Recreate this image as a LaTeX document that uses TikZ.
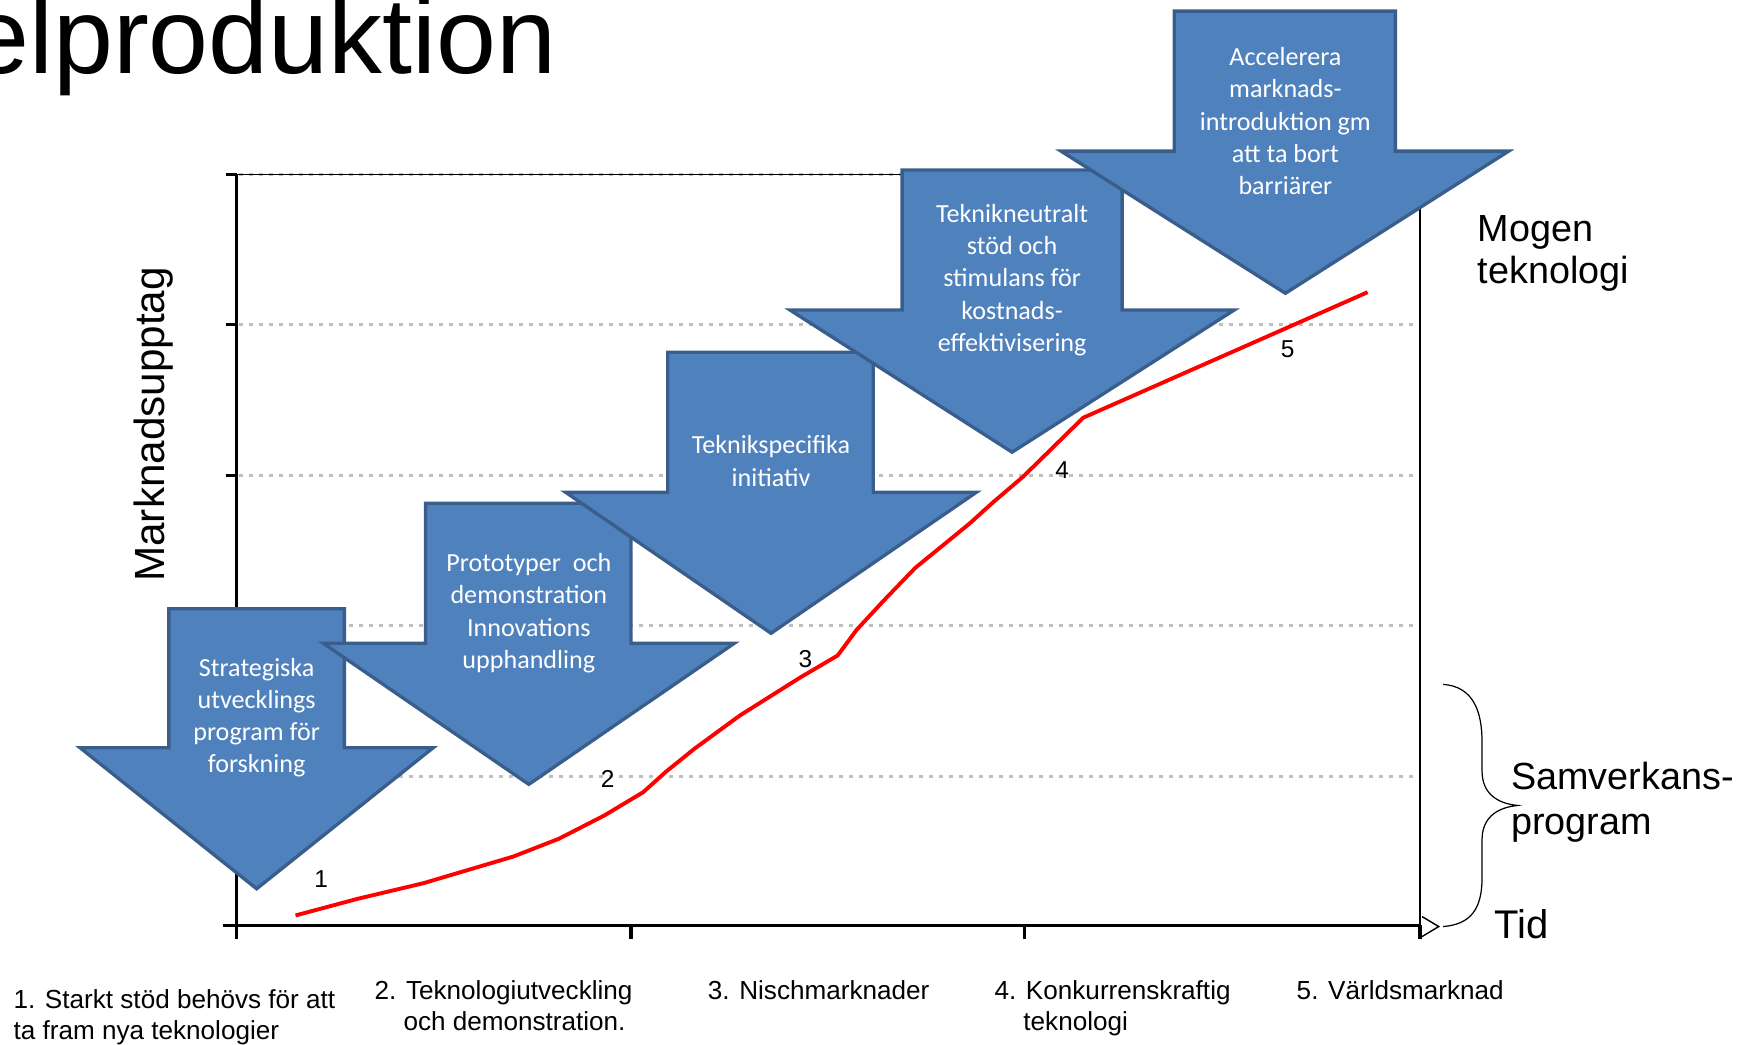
\documentclass[tikz,border=0pt]{standalone}
\usepackage{fontspec}
\setmainfont{Liberation Sans}
\newfontfamily\calibri{Carlito}
\definecolor{arrowfill}{HTML}{4F81BD}
\definecolor{arrowline}{HTML}{3A5E8C}
\definecolor{gridgray}{HTML}{BFBFBF}
\definecolor{curvered}{HTML}{FF0000}
\begin{document}
\begin{tikzpicture}[x=1pt,y=-1pt,
  blockarrow/.style={fill=arrowfill,draw=arrowline,line width=3pt,line join=miter},
  arrowtext/.style={text=white,font=\calibri\fontsize{23.5}{29}\selectfont,align=center,inner sep=0pt},
  gridline/.style={draw=gridgray,line width=2pt,dash pattern=on 4pt off 5pt},
  axisline/.style={draw=black,line width=3.2pt},
  borderline/.style={draw=black,line width=1.2pt},
  caption/.style={font=\fontsize{23.5}{28}\selectfont,anchor=base west,inner sep=0pt},
  sidelabel/.style={font=\fontsize{34}{40}\selectfont,anchor=base west,inner sep=0pt},
  stagenum/.style={font=\fontsize{22}{26}\selectfont,inner sep=0pt}]

\useasboundingbox (0,0) rectangle (1568,940);

% title, partly cut at the left edge
\begin{scope}
\clip (0,0) rectangle (1568,940);
\node[font=\fontsize{97}{110}\selectfont,anchor=base east,inner sep=0pt] (title) at (501,66) {elproduktion};
\end{scope}

% grid
\foreach \gy in {157,292,428,563,699}
  \draw[gridline] (215,\gy) -- (1277,\gy);

% plot area border
\draw[borderline] (213,157) -- (1278,157) -- (1278,833);

% axes with ticks
\draw[axisline] (213,157) -- (213,845);
\foreach \gy in {157,292,428,563,699}
  \draw[axisline] (203,\gy) -- (213,\gy);
\draw[axisline] (201,833) -- (1278,833);
\foreach \gx in {568,922,1278}
  \draw[axisline] (\gx,833) -- (\gx,845);
\coordinate (xend) at (1295,834);
\draw[black,line width=1.3pt] (1280,825) -- (xend) -- (1280,843);

% block arrows, left to right, each drawn over the previous one
\draw[blockarrow] (152,548) -- (310,548) -- (310,673) -- (390,673) -- (231,800) -- (72,673) -- (152,673) -- cycle;
\node[arrowtext] (a1) at (231,646) {Strategiska\\utvecklings\\program för\\forskning};

\draw[blockarrow] (383,453) -- (568,453) -- (568,579) -- (661,579) -- (476,706) -- (291,579) -- (383,579) -- cycle;
\node[arrowtext] (a2) at (476,552) {Prototyper\ \ och\\demonstration\\Innovations\\upphandling};

\draw[blockarrow] (601,317) -- (786,317) -- (786,443) -- (879,443) -- (694,570) -- (509,443) -- (601,443) -- cycle;
\node[arrowtext] (a3) at (694,415) {Teknikspecifika\\initiativ};

\draw[blockarrow] (812,153) -- (1010,153) -- (1010,279) -- (1111,279) -- (911,407) -- (711,279) -- (812,279) -- cycle;
\node[arrowtext] (a4) at (911,252) {Teknikneutralt\\stöd och\\stimulans för\\kostnads-\\effektivisering};

\draw[blockarrow] (1057,10) -- (1256,10) -- (1256,136) -- (1358,136) -- (1157,264) -- (955,136) -- (1057,136) -- cycle;
\node[arrowtext] (a5) at (1157,109) {Accelerera\\marknads-\\introduktion gm\\att ta bort\\barriärer};

% market uptake curve
\draw[curvered,line width=3.5pt,line join=round]
  (266,824) -- (322,809) -- (381,795) -- (462,771) -- (503,755) -- (544,734)
  -- (579,713) -- (599,695) -- (625,674) -- (666,644) -- (720,610) -- (754,590)
  -- (771,567) -- (796,540) -- (824,511) -- (851,489) -- (873,471) -- (894,452)
  -- (921,429) -- (975,376) -- (1231,263);

% stage numbers
\node[stagenum] (n1) at (289,791) {1};
\node[stagenum] (n2) at (547,701) {2};
\node[stagenum] (n3) at (725,593) {3};
\node[stagenum] (n4) at (956,423) {4};
\node[stagenum] (n5) at (1159,314) {5};

% axis titles
\node[font=\fontsize{38}{42}\selectfont,rotate=90,inner sep=0pt] (ylabel) at (138.5,382) {Marknadsupptag};
\node[font=\fontsize{36}{40}\selectfont,anchor=base west,inner sep=0pt] (xlabel) at (1345,845) {Tid};

% right-hand labels
\node[sidelabel] (mogen1) at (1330,217) {Mogen};
\node[sidelabel] (mogen2) at (1330,255) {teknologi};
\node[sidelabel] (samv1) at (1360,711) {Samverkans-};
\node[sidelabel] (samv2) at (1360,751) {program};

% brace
\draw[black,line width=1.1pt]
  (1299,616) .. controls (1326,618) and (1334,640) .. (1334,668)
  -- (1334,694) .. controls (1334,713) and (1346,723) .. (1366,725)
  .. controls (1346,727) and (1334,737) .. (1334,756)
  -- (1334,790) .. controls (1334,818) and (1324,832) .. (1299,834);

% stage descriptions
\node[caption] (c1a) at (12,908) {1. Starkt stöd behövs för att};
\node[caption] (c1b) at (12,936) {ta fram nya teknologier};
\node[caption] (c2a) at (337,900) {2. Teknologiutveckling};
\node[caption] (c2b) at (363,928) {och demonstration.};
\node[caption] (c3a) at (637,900) {3. Nischmarknader};
\node[caption] (c4a) at (895,900) {4. Konkurrenskraftig};
\node[caption] (c4b) at (921,928) {teknologi};
\node[caption] (c5a) at (1167,900) {5. Världsmarknad};

\end{tikzpicture}
\end{document}
